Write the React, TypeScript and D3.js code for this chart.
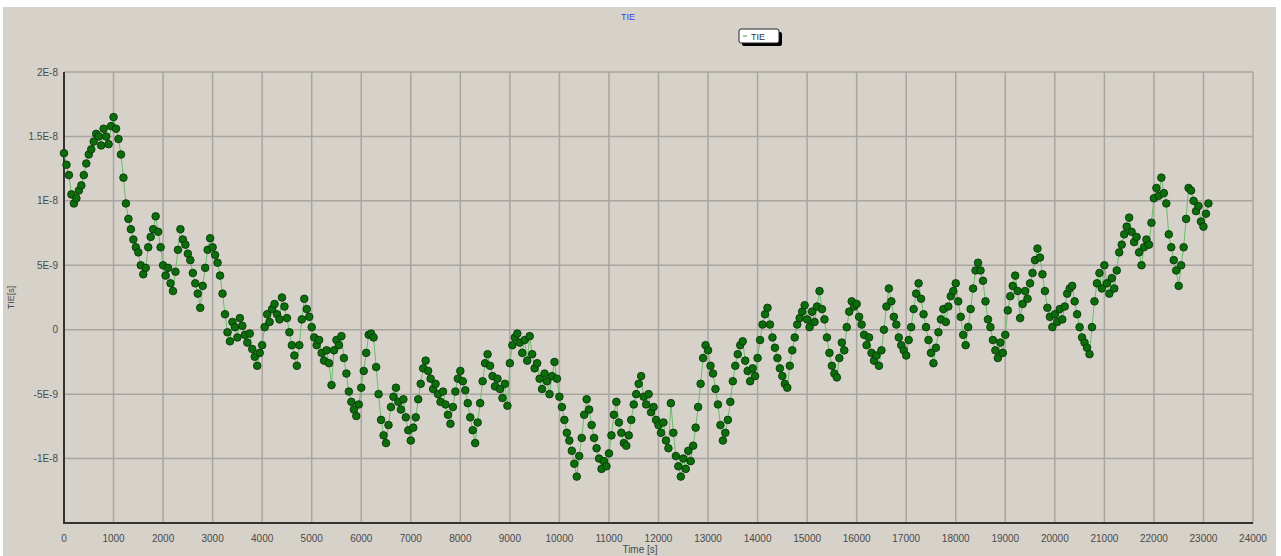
import React from "react";
import * as d3 from "d3";

// TIE samples in ns, one every 50 s starting at t = 0
const tieNs = [
  // 0 - 950
  13.7, 12.8, 12.0, 10.5, 9.8, 10.2, 10.8, 11.2, 12.0, 12.9, 13.6, 14.0, 14.6, 15.2, 15.0, 14.3, 15.6, 15.0, 14.4, 15.8,
  // 1000 - 1950
  16.5, 15.6, 14.8, 13.6, 11.8, 9.8, 8.6, 7.8, 7.0, 6.4, 6.0, 5.0, 4.3, 4.8, 6.4, 7.2, 7.8, 8.8, 7.6, 6.4,
  // 2000 - 2950
  5.0, 4.2, 4.8, 3.6, 3.0, 4.5, 6.2, 7.8, 7.0, 6.6, 5.9, 5.4, 4.4, 3.6, 2.8, 1.7, 3.4, 4.8, 6.2, 7.1,
  // 3000 - 3950
  6.4, 5.8, 5.2, 4.2, 2.8, 1.2, -0.2, -0.9, 0.6, 0.2, -0.6, 0.9, 0.3, -0.4, -1.0, -0.3, -1.5, -2.1, -2.8, -1.8,
  // 4000 - 4950
  -1.2, 0.2, 1.2, 0.6, 1.6, 2.0, 1.2, 0.8, 2.5, 1.8, 0.9, -0.2, -1.2, -2.0, -2.8, -1.2, 0.8, 2.4, 1.6, 1.0,
  // 5000 - 5950
  0.2, -0.6, -1.2, -0.8, -1.8, -2.4, -1.6, -2.6, -4.3, -1.6, -0.8, -1.2, -0.5, -2.2, -3.4, -4.8, -5.6, -6.2, -6.7, -5.8,
  // 6000 - 6950
  -4.5, -3.2, -1.8, -0.4, -0.3, -0.6, -2.9, -5.0, -7.0, -8.2, -8.8, -7.4, -6.0, -5.2, -4.5, -5.6, -6.2, -5.4, -6.8, -7.8,
  // 7000 - 7950
  -8.6, -7.6, -6.8, -5.4, -4.2, -3.0, -2.4, -3.2, -3.8, -4.6, -4.2, -5.0, -5.6, -4.8, -5.8, -6.6, -7.3, -6.0, -4.8, -3.8,
  // 8000 - 8950
  -3.2, -4.0, -4.7, -5.7, -6.8, -7.8, -8.8, -7.2, -5.7, -4.0, -2.6, -1.9, -2.8, -3.6, -4.4, -3.8, -4.6, -5.3, -4.2, -5.9,
  // 9000 - 9950
  -2.6, -1.2, -0.6, -0.3, -1.0, -1.8, -0.8, -2.4, -0.5, -1.9, -3.0, -2.6, -3.8, -4.6, -3.4, -4.0, -5.0, -3.6, -2.5, -3.8,
  // 10000 - 10950
  -5.2, -6.0, -7.0, -8.0, -8.6, -9.4, -10.4, -11.4, -9.8, -8.4, -6.6, -5.4, -6.2, -7.4, -8.4, -9.2, -10.0, -10.8, -10.2, -10.6,
  // 11000 - 11950
  -9.6, -8.2, -6.6, -5.6, -7.2, -8.0, -8.8, -9.0, -8.2, -7.0, -5.8, -5.0, -4.2, -3.6, -5.2, -5.8, -5.0, -6.4, -6.0, -7.0,
  // 12000 - 12950
  -7.4, -8.0, -7.2, -8.6, -9.2, -5.7, -8.0, -9.8, -10.6, -11.4, -10.0, -10.8, -9.4, -10.2, -9.0, -7.6, -6.0, -4.2, -2.2, -1.2,
  // 13000 - 13950
  -1.6, -2.8, -3.4, -4.6, -5.8, -7.4, -8.6, -8.0, -7.0, -5.6, -4.0, -2.8, -1.9, -1.2, -0.9, -2.4, -3.2, -4.0, -3.0, -3.6,
  // 14000 - 14950
  -2.2, -0.8, 0.4, 1.2, 1.7, 0.4, -0.6, -1.4, -2.2, -3.0, -3.6, -4.2, -4.5, -2.8, -1.6, -0.6, 0.4, 0.9, 1.4, 1.9,
  // 15000 - 15950
  0.8, 0.2, 1.4, 0.6, 1.8, 3.0, 1.6, 0.8, -0.6, -1.8, -2.8, -3.4, -3.7, -2.2, -1.0, -1.6, 0.2, 1.4, 2.2, 1.8,
  // 16000 - 16950
  2.0, 1.0, 0.4, -0.4, -1.2, -0.6, -1.8, -2.4, -2.0, -2.8, -1.6, 0.0, 1.8, 3.2, 2.2, 1.0, 0.4, -0.6, -1.2, -1.6,
  // 17000 - 17950
  -2.0, -0.8, 0.2, 1.6, 2.8, 3.6, 2.4, 1.2, 0.2, -0.8, -1.8, -2.6, -1.4, -0.2, 0.8, 1.6, 0.6, 1.8, 2.6, 3.0,
  // 18000 - 18950
  3.6, 2.2, 1.0, -0.4, -1.2, 0.2, 1.6, 3.2, 4.6, 5.2, 4.6, 3.8, 2.2, 0.8, 0.2, -0.8, -1.6, -2.2, -1.0, -1.8,
  // 19000 - 19950
  -0.4, 1.5, 2.6, 3.4, 4.2, 3.0, 0.9, 2.0, 3.0, 2.4, 3.6, 4.4, 5.4, 6.3, 5.6, 4.3, 3.0, 1.7, 1.0, 0.2,
  // 20000 - 20950
  1.2, 0.6, 1.6, 0.8, 1.8, 2.8, 3.2, 3.4, 2.2, 1.2, 0.2, -0.6, -1.0, -1.4, -1.9, 0.2, 2.2, 3.6, 4.4, 3.2,
  // 21000 - 21950
  5.0, 3.6, 2.8, 4.0, 3.2, 4.6, 6.0, 6.6, 7.4, 8.0, 8.7, 7.6, 6.8, 7.2, 6.0, 5.0, 6.4, 7.0, 6.6, 8.3,
  // 22000 - 22950
  10.2, 11.0, 10.4, 11.8, 10.6, 9.8, 7.4, 6.4, 5.4, 4.6, 3.4, 5.0, 6.4, 8.6, 11.0, 10.8, 10.0, 9.2, 9.6, 8.4,
  // 23000 - 23100
  8.0, 9.0, 9.8,
];

const stepSec = 50;
const xTicks = d3.range(0, 24001, 1000);
const yTicks = [2e-8, 1.5e-8, 1e-8, 5e-9, 0, -5e-9, -1e-8];
const yTickLabels = ["2E-8", "1.5E-8", "1E-8", "5E-9", "0", "-5E-9", "-1E-8"];

const W = 1281;
const H = 556;
const margin = { top: 72, right: 28, bottom: 33, left: 64 };

const points = tieNs.map((v, i) => ({ t: i * stepSec, v: v * 1e-9 }));

export default function App() {
  const x = d3.scaleLinear().domain([0, 24000]).range([margin.left, W - margin.right]);
  const y = d3.scaleLinear().domain([-1.5e-8, 2e-8]).range([H - margin.bottom, margin.top]);
  const line = d3
    .line<{ t: number; v: number }>()
    .x((d) => x(d.t))
    .y((d) => y(d.v));

  const font = "'Liberation Sans', Arial, sans-serif";
  const gridColor = "#a9a59f";

  return (
    <>
      <style>{"body{margin:0}"}</style>
      <svg width={W} height={H} style={{ display: "block", background: "#fff" }}>
        <rect x={3} y={7} width={W - 8} height={H - 7} fill="#d6d2ca" />

        {/* grid */}
        {xTicks.map((t) => (
          <line key={"gx" + t} x1={x(t)} x2={x(t)} y1={y(2e-8)} y2={y(-1.5e-8)} stroke={gridColor} strokeWidth={1.5} />
        ))}
        {yTicks.map((v) => (
          <line key={"gy" + v} x1={x(0)} x2={x(24000)} y1={y(v)} y2={y(v)} stroke={gridColor} strokeWidth={1.5} />
        ))}

        {/* axes */}
        <line x1={x(0)} x2={x(0)} y1={y(2e-8)} y2={y(-1.5e-8) + 1} stroke="#333" strokeWidth={2} />
        <line x1={x(0) - 1} x2={x(24000)} y1={y(-1.5e-8)} y2={y(-1.5e-8)} stroke="#333" strokeWidth={2} />

        {/* tick labels */}
        {xTicks.map((t) => (
          <text key={"tx" + t} x={x(t)} y={542} textAnchor="middle" fontFamily={font} fontSize={10} fill="#4a4a4a">
            {t}
          </text>
        ))}
        {yTicks.map((v, i) => (
          <text key={"ty" + v} x={58} y={y(v) + 3.5} textAnchor="end" fontFamily={font} fontSize={10} fill="#4a4a4a">
            {yTickLabels[i]}
          </text>
        ))}

        {/* axis titles */}
        <text x={640} y={553} textAnchor="middle" fontFamily={font} fontSize={10} fill="#4a4a4a">
          Time [s]
        </text>
        <text
          transform={`translate(14, ${y(2.5e-9)}) rotate(-90)`}
          textAnchor="middle"
          fontFamily={font}
          fontSize={9}
          fill="#4a4a4a"
        >
          TIE[s]
        </text>

        {/* title */}
        <text x={628} y={20} textAnchor="middle" fontFamily={font} fontSize={9} fill="#3a3aff">
          TIE
        </text>

        {/* legend */}
        <rect x={742} y={32} width={40} height={14} rx={2} fill="#000" />
        <rect x={739} y={29} width={40} height={14} rx={2} fill="#fff" stroke="#222" strokeWidth={1} />
        <line x1={743} x2={747} y1={36} y2={36} stroke="#3a9a3a" strokeWidth={1} />
        <text x={751} y={39.5} fontFamily={font} fontSize={9} fill="#333">
          TIE
        </text>

        {/* series */}
        <path d={line(points) ?? ""} fill="none" stroke="#6cbd6c" strokeWidth={1} />
        {points.map((p, i) => (
          <circle key={i} cx={x(p.t)} cy={y(p.v)} r={3.8} fill="#0b6e0b" stroke="#0a350a" strokeWidth={0.9} />
        ))}
      </svg>
    </>
  );
}
